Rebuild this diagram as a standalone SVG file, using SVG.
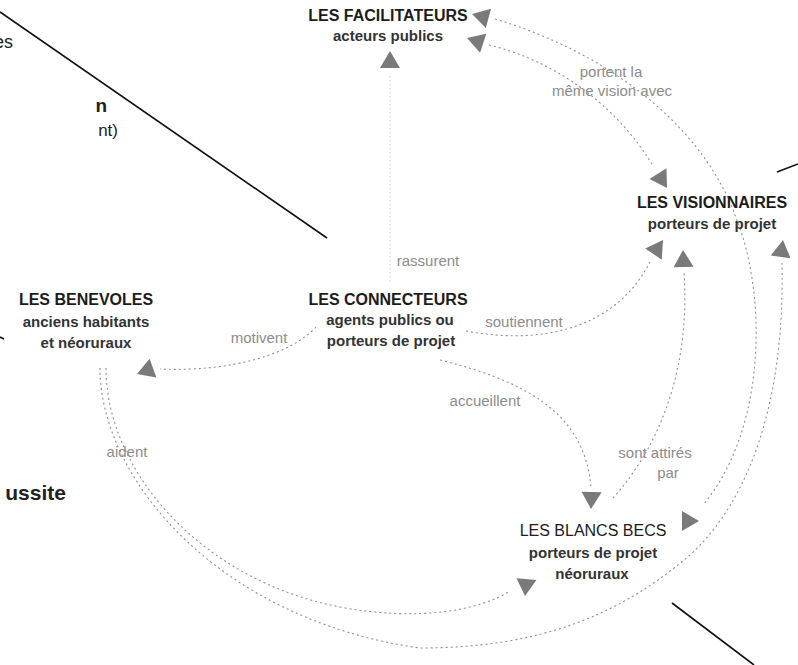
<svg xmlns="http://www.w3.org/2000/svg" xmlns:xlink="http://www.w3.org/1999/xlink" width="798" height="665" viewBox="0 0 798 665">
<style>
.t{font-family:"Liberation Sans",Arial,sans-serif;font-weight:700;font-size:16px;fill:#1c1c1c;text-anchor:middle}
.tn{font-family:"Liberation Sans",Arial,sans-serif;font-weight:400;font-size:16px;fill:#1c1c1c;text-anchor:middle}
.s{font-family:"Liberation Sans",Arial,sans-serif;font-weight:700;font-size:15px;fill:#333;text-anchor:middle}
.lbl{font-family:"Liberation Sans",Arial,sans-serif;font-size:15px;fill:#8c8c8c;text-anchor:middle}
.pg{font-family:"Liberation Sans",Arial,sans-serif;fill:#222;text-anchor:end}
.c{fill:none;stroke:#8f8f8f;stroke-width:1.1;stroke-dasharray:2 3}
.cl{fill:none;stroke:#cfcfcf;stroke-width:1;stroke-dasharray:1.5 2.5}
.ah{fill:#7a7a7a}
.bl{stroke:#111;stroke-width:1.6;fill:none}
</style>
<defs>
<path id="ah" class="ah" d="M0,0 L-17,-10 L-17,10 Z"/>
</defs>
<rect width="798" height="665" fill="#fff"/>

<g id="page">
<line class="bl" x1="0" y1="12" x2="327" y2="238"/>
<line class="bl" x1="777" y1="172" x2="798" y2="164"/>
<line class="bl" x1="672" y1="603" x2="754" y2="665"/>
<line class="bl" x1="0" y1="337" x2="4" y2="339"/>
<text class="pg" x="13" y="48" font-size="18">es</text>
<text class="pg" x="107" y="112" font-size="19" font-weight="700">n</text>
<text class="pg" x="118" y="136" font-size="17">nt)</text>
<text class="pg" x="66" y="500" font-size="21" font-weight="700">ussite</text>
</g>

<g id="connectors">
<line class="cl" x1="390" y1="76" x2="390" y2="282"/>
<path class="c" d="M495,19 C600,50 700,120 735,215 C768,295 766,430 703,505"/>
<path class="c" d="M489,45 C560,62 620,110 653,166"/>
<path class="c" d="M466,331 C540,345 615,330 650,262"/>
<path class="c" d="M440,360 C520,380 585,410 591,488"/>
<path class="c" d="M613,498 C665,440 690,360 684,272"/>
<path class="c" d="M316,327 C290,355 230,372 160,369"/>
<path class="c" d="M100,368 C100,480 220,620 420,648 C540,648 620,615 690,555 C750,500 785,400 782,263"/>
<path class="c" d="M106,368 C106,470 200,580 340,607 C420,622 480,610 510,591"/>
<use href="#ah" transform="translate(390,51) rotate(-90)"/>
<use href="#ah" transform="translate(472,14) rotate(195)"/>
<use href="#ah" transform="translate(467,38) rotate(198)"/>
<use href="#ah" transform="translate(667,188) rotate(58)"/>
<use href="#ah" transform="translate(663,240) rotate(-56)"/>
<use href="#ah" transform="translate(683,250) rotate(-92)"/>
<use href="#ah" transform="translate(783,240) rotate(-82)"/>
<use href="#ah" transform="translate(591,509) rotate(92)"/>
<use href="#ah" transform="translate(699,521) rotate(0)"/>
<use href="#ah" transform="translate(525,596) rotate(95)"/>
<use href="#ah" transform="translate(137,374) rotate(160)"/>
<text class="lbl" x="428" y="266">rassurent</text>
<text class="lbl" x="611" y="77">portent la</text>
<text class="lbl" x="612" y="96">même vision avec</text>
<text class="lbl" x="524" y="327">soutiennent</text>
<text class="lbl" x="485" y="406">accueillent</text>
<text class="lbl" x="655" y="458">sont attirés</text>
<text class="lbl" x="668" y="478">par</text>
<text class="lbl" x="259" y="343">motivent</text>
<text class="lbl" x="127" y="457">aident</text>
</g>

<g id="facilitateurs">
<text class="t" x="388" y="21">LES FACILITATEURS</text>
<text class="s" x="388" y="41">acteurs publics</text>
</g>
<g id="visionnaires">
<text class="t" x="712" y="208">LES VISIONNAIRES</text>
<text class="s" x="712" y="229">porteurs de projet</text>
</g>
<g id="connecteurs">
<text class="t" x="388" y="305">LES CONNECTEURS</text>
<text class="s" x="390" y="325">agents publics ou</text>
<text class="s" x="391" y="346">porteurs de projet</text>
</g>
<g id="benevoles">
<text class="t" x="86" y="305">LES BENEVOLES</text>
<text class="s" x="86" y="327">anciens habitants</text>
<text class="s" x="86" y="348">et néoruraux</text>
</g>
<g id="blancs-becs">
<text class="tn" x="593" y="536">LES BLANCS BECS</text>
<text class="s" x="593" y="558">porteurs de projet</text>
<text class="s" x="592" y="579">néoruraux</text>
</g>
</svg>
